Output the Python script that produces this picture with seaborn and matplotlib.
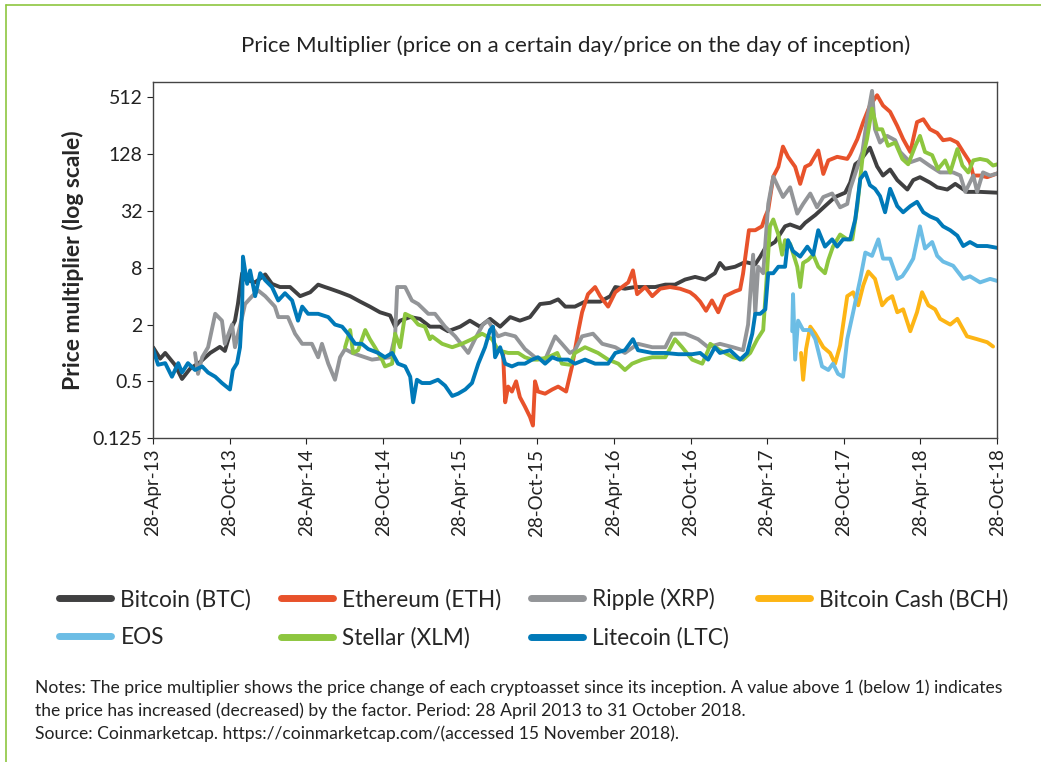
import numpy as np
import pandas as pd
import matplotlib.pyplot as plt
import matplotlib.lines as mlines
import seaborn as sns

# days since 28 April 2013 and price multiplier
btc_days = [0, 17, 29, 52, 69, 88, 112, 136, 159, 171, 188, 195, 202, 212, 219, 243, 267, 283, 302, 326,
            350, 374, 393, 409, 421, 445, 469, 493, 516, 540, 564, 576, 588, 612, 635, 659, 683, 702, 731, 754,
            778, 802, 826, 850, 873, 897, 921, 945, 964, 981, 1004, 1028, 1064, 1088, 1100, 1123, 1147, 1171, 1195, 1219,
            1242, 1266, 1290, 1314, 1337, 1349, 1361, 1385, 1409, 1433, 1445, 1457, 1480, 1504, 1516, 1540, 1552, 1576, 1599, 1623,
            1647, 1659, 1671, 1683, 1706, 1723, 1737, 1754, 1771, 1795, 1809, 1825, 1849, 1866, 1890, 1909, 1937, 1968, 2009]
btc_vals = [1.15, 0.87, 1.0, 0.75, 0.53, 0.68, 0.8, 1.0, 1.16, 1.05, 1.9, 2.2, 3.3, 7.0, 6.0, 5.6, 6.8, 5.4, 5.0, 5.0,
            4.0, 4.4, 5.3, 5.0, 4.8, 4.4, 4.0, 3.5, 3.1, 2.7, 2.5, 1.9, 2.2, 2.4, 2.3, 1.9, 1.9, 1.7, 1.9, 2.2,
            1.9, 2.3, 1.9, 2.4, 2.2, 2.4, 3.3, 3.4, 3.7, 3.1, 3.1, 3.5, 3.5, 4.0, 5.0, 4.8, 5.0, 5.0, 5.0, 5.3,
            5.3, 6.0, 6.4, 6.0, 7.0, 9.0, 7.8, 8.2, 9.2, 8.7, 10.5, 13, 15, 22, 23, 21, 24, 29, 36, 45,
            50, 64, 100, 110, 150, 95, 76, 88, 68, 54, 68, 73, 64, 57, 54, 62, 51, 51, 50]

eth_days = [833, 838, 845, 854, 864, 873, 885, 897, 904, 909, 916, 933, 950, 964, 983, 997, 1012, 1021, 1035, 1052,
            1064, 1083, 1100, 1116, 1131, 1142, 1152, 1171, 1188, 1207, 1230, 1254, 1278, 1290, 1302, 1316, 1330, 1345, 1361, 1385,
            1397, 1404, 1418, 1433, 1449, 1457, 1464, 1476, 1488, 1499, 1511, 1528, 1540, 1552, 1564, 1583, 1595, 1607, 1628, 1652,
            1659, 1676, 1690, 1706, 1723, 1737, 1754, 1771, 1785, 1802, 1818, 1833, 1849, 1866, 1880, 1897, 1914, 1928, 1944, 1952,
            1968, 1985, 2009]
eth_vals = [1.0, 0.3, 0.44, 0.39, 0.5, 0.34, 0.27, 0.21, 0.17, 0.5, 0.39, 0.37, 0.41, 0.44, 0.39, 0.72, 1.7, 2.7, 4.2, 5.0,
            4.0, 3.1, 4.4, 5.0, 5.6, 7.5, 4.2, 5.0, 4.0, 4.8, 5.0, 4.8, 4.4, 4.0, 3.5, 2.8, 3.6, 2.7, 4.0, 4.5,
            4.7, 6.9, 20, 20, 22, 28, 33, 74, 94, 154, 120, 94, 62, 94, 100, 140, 79, 110, 120, 114,
            128, 185, 280, 420, 540, 420, 360, 255, 185, 135, 280, 300, 235, 215, 180, 185, 170, 135, 105, 76,
            76, 73, 80]

xrp_days = [100, 107, 117, 131, 148, 164, 171, 188, 195, 212, 219, 236, 250, 267, 290, 298, 321, 338, 355, 378,
            393, 402, 417, 433, 445, 457, 474, 521, 564, 576, 581, 600, 616, 631, 655, 671, 695, 719, 750, 766,
            785, 797, 821, 838, 862, 885, 909, 933, 957, 973, 992, 1004, 1021, 1047, 1069, 1100, 1123, 1154, 1188, 1219,
            1235, 1266, 1297, 1321, 1349, 1380, 1404, 1416, 1428, 1433, 1440, 1452, 1464, 1476, 1488, 1499, 1516, 1533, 1547, 1564,
            1580, 1595, 1616, 1635, 1652, 1659, 1688, 1699, 1711, 1718, 1730, 1747, 1766, 1778, 1802, 1825, 1849, 1873, 1904, 1921,
            1933, 1952, 1961, 1975, 1992, 2009]
xrp_vals = [1.0, 0.6, 0.9, 1.15, 2.6, 2.2, 1.25, 2.0, 1.15, 2.4, 3.3, 4.0, 4.6, 4.0, 3.1, 2.4, 2.4, 1.6, 1.25, 1.25,
            0.9, 1.25, 0.77, 0.52, 0.9, 1.1, 1.0, 0.85, 0.9, 1.5, 5.0, 5.0, 3.6, 3.3, 2.6, 2.6, 1.9, 1.5, 1.0, 1.4,
            2.0, 2.2, 1.5, 1.6, 1.5, 1.1, 0.9, 0.85, 1.5, 1.25, 1.0, 1.07, 1.5, 1.6, 1.25, 1.15, 1.0, 1.25, 1.15, 1.15,
            1.6, 1.6, 1.4, 1.15, 1.25, 1.15, 1.07, 2.0, 11, 2.6, 8.2, 7.0, 38, 74, 57, 45, 57, 30, 38, 49,
            35, 45, 49, 35, 38, 55, 135, 300, 600, 235, 170, 200, 180, 135, 105, 114, 96, 82, 82, 76,
            51, 76, 51, 82, 76, 80]

bch_days = [1542, 1547, 1554, 1564, 1576, 1595, 1611, 1623, 1635, 1652, 1666, 1678, 1690, 1702, 1718, 1735, 1747, 1759, 1771, 1785,
            1802, 1818, 1830, 1845, 1861, 1873, 1897, 1914, 1937, 1961, 1985, 1999]
bch_vals = [1.0, 0.52, 1.1, 1.9, 1.6, 1.15, 1.0, 0.77, 1.2, 4.0, 4.4, 3.2, 5.2, 7.3, 6.1, 3.2, 3.7, 4.0, 2.7, 2.9,
            1.7, 2.7, 4.4, 3.2, 2.9, 2.3, 2.0, 2.3, 1.5, 1.4, 1.3, 1.17]

eos_days = [1521, 1523, 1528, 1535, 1547, 1564, 1576, 1592, 1607, 1618, 1630, 1642, 1652, 1666, 1683, 1695, 1711, 1726, 1737, 1754,
            1771, 1783, 1795, 1809, 1825, 1837, 1854, 1866, 1880, 1904, 1928, 1944, 1968, 1992, 2009]
eos_vals = [1.7, 4.2, 0.85, 2.2, 1.75, 1.75, 1.4, 0.72, 0.66, 0.77, 0.6, 0.56, 1.4, 2.7, 6.1, 11.6, 10.7, 16, 10, 10,
            6.1, 6.5, 7.8, 10, 22, 12.8, 15, 10.7, 9.3, 8.4, 6.1, 6.5, 5.6, 6.1, 5.8]

xlm_days = [457, 469, 476, 488, 505, 516, 528, 545, 552, 569, 576, 588, 600, 616, 631, 647, 659, 664, 688, 712,
            735, 759, 783, 807, 821, 845, 869, 885, 902, 916, 940, 962, 973, 992, 1004, 1028, 1059, 1083, 1107, 1123,
            1140, 1164, 1188, 1219, 1242, 1259, 1283, 1307, 1321, 1326, 1349, 1380, 1404, 1421, 1438, 1452, 1461, 1468, 1476, 1488,
            1497, 1504, 1516, 1533, 1540, 1547, 1559, 1571, 1583, 1599, 1607, 1618, 1635, 1652, 1664, 1676, 1688, 1699, 1711, 1723,
            1735, 1749, 1766, 1783, 1797, 1814, 1825, 1837, 1854, 1868, 1885, 1897, 1914, 1926, 1940, 1952, 1968, 1985, 1999, 2009]
xlm_vals = [1.15, 1.75, 1.0, 1.07, 1.75, 1.4, 1.15, 0.85, 0.72, 0.77, 1.6, 1.15, 2.6, 2.4, 2.0, 1.9, 1.4, 1.5, 1.25, 1.15,
            1.25, 1.4, 1.6, 1.4, 1.07, 1.0, 1.0, 0.9, 0.85, 0.85, 0.9, 1.0, 0.77, 0.75, 1.0, 1.15, 1.0, 0.85, 0.77, 0.66,
            0.77, 0.85, 0.9, 0.9, 1.4, 1.15, 0.85, 0.77, 1.07, 1.25, 1.07, 0.9, 0.85, 1.0, 1.4, 1.75, 7.0, 22, 26, 18,
            11, 15.7, 14.4, 8.2, 5.0, 9.0, 9.7, 11, 8.2, 7.0, 9.7, 13.4, 18, 16, 16, 36, 114, 185, 390, 235,
            235, 157, 170, 114, 100, 157, 200, 135, 125, 89, 110, 82, 145, 97, 82, 110, 114, 110, 97, 100]

ltc_days = [0, 12, 29, 45, 60, 69, 83, 100, 117, 131, 148, 164, 183, 190, 200, 207, 212, 214, 224, 231,
            243, 255, 267, 283, 298, 314, 331, 345, 355, 369, 393, 417, 433, 450, 464, 481, 497, 512, 536, 552,
            569, 583, 600, 612, 619, 628, 640, 659, 678, 695, 712, 726, 743, 759, 774, 790, 802, 809, 814, 826,
            838, 854, 869, 885, 902, 916, 933, 950, 964, 988, 1004, 1028, 1052, 1083, 1100, 1123, 1142, 1154, 1188, 1219,
            1250, 1283, 1302, 1321, 1337, 1349, 1373, 1397, 1414, 1426, 1433, 1445, 1457, 1464, 1476, 1488, 1504, 1511, 1523, 1540,
            1557, 1571, 1583, 1599, 1616, 1628, 1642, 1659, 1671, 1683, 1695, 1706, 1718, 1730, 1742, 1754, 1771, 1785, 1802, 1818,
            1833, 1849, 1866, 1880, 1897, 1914, 1928, 1944, 1961, 1985, 2009]
ltc_vals = [1.1, 0.75, 0.78, 0.56, 0.78, 0.62, 0.78, 0.66, 0.72, 0.62, 0.56, 0.48, 0.41, 0.66, 0.78, 1.15, 2.9, 10.5, 5.4, 7.5,
            4.0, 7.0, 5.9, 5.0, 3.6, 4.3, 3.6, 2.2, 3.1, 2.6, 2.6, 2.4, 2.0, 1.9, 1.6, 1.25, 1.25, 1.1, 1.0, 0.9,
            1.0, 0.77, 0.72, 0.56, 0.3, 0.52, 0.48, 0.48, 0.52, 0.45, 0.35, 0.37, 0.41, 0.48, 0.77, 1.15, 1.75, 1.9, 0.9, 1.15,
            0.77, 0.72, 0.77, 0.77, 0.85, 0.9, 0.77, 0.9, 0.85, 0.85, 0.77, 0.85, 0.77, 0.77, 1.0, 1.07, 1.4, 1.07, 1.0, 1.0,
            0.97, 0.97, 1.0, 0.85, 1.15, 1.0, 1.07, 0.85, 1.0, 1.6, 2.6, 2.6, 2.9, 7.0, 7.0, 8.2, 8.2, 15.7, 12, 10.5,
            13.4, 11, 20, 13.4, 16, 13.4, 16, 16, 26, 70, 82, 60, 55, 46, 31, 55, 36, 31, 36, 40,
            31, 28, 26, 22, 20, 17.5, 13.6, 15, 13.6, 13.6, 13]

names = ['Bitcoin (BTC)', 'Ethereum (ETH)', 'Ripple (XRP)', 'Bitcoin Cash (BCH)',
         'EOS', 'Stellar (XLM)', 'Litecoin (LTC)']
colors = ['#404041', '#E8522B', '#939598', '#FDB515', '#6CBDE5', '#8DC63F', '#0079B8']
series = [(btc_days, btc_vals), (eth_days, eth_vals), (xrp_days, xrp_vals), (bch_days, bch_vals),
          (eos_days, eos_vals), (xlm_days, xlm_vals), (ltc_days, ltc_vals)]

start = pd.Timestamp('2013-04-28')
frames = []
for name, (d, v) in zip(names, series):
    frames.append(pd.DataFrame({'date': start + pd.to_timedelta(d, unit='D'), 'mult': v, 'coin': name}))
df = pd.concat(frames, ignore_index=True)

sns.set_theme(style='ticks')
plt.rcParams['font.family'] = ['Lato', 'DejaVu Sans']

fig = plt.figure(figsize=(10.41, 7.62), dpi=100)
ax = fig.add_axes([0.147, 0.425, 0.811, 0.467])

sns.lineplot(data=df, x='date', y='mult', hue='coin', hue_order=names,
             palette=dict(zip(names, colors)), estimator=None, sort=False,
             linewidth=2.8, ax=ax, legend=False)

ax.set_yscale('log', base=2)
yt = [0.125, 0.5, 2, 8, 32, 128, 512]
ax.set_yticks(yt)
ax.set_yticklabels(['0.125', '0.5', '2', '8', '32', '128', '512'], fontsize=14)
ax.minorticks_off()
ax.set_ylim(0.125, 740)

xt = pd.date_range('2013-04-01', '2018-10-01', freq='6MS') + pd.Timedelta(days=27)
ax.set_xticks(xt)
ax.set_xticklabels([t.strftime('%d-%b-%y') for t in xt], rotation=90, fontsize=13.5)
ax.set_xlim(start, pd.Timestamp('2018-10-28'))
ax.set_xlabel('')
ax.set_ylabel('Price multiplier (log scale)', fontsize=16.5, fontweight='bold', labelpad=6)
ax.tick_params(length=4, width=0.8, colors='#222222')
for s in ax.spines.values():
    s.set_color('#444444')
    s.set_linewidth(1.0)

fig.text(0.5525, 0.94, 'Price Multiplier (price on a certain day/price on the day of inception)',
         ha='center', va='center', fontsize=16, color='#222222')

# legend filled column by column so rows read BTC, ETH, XRP, BCH / EOS, XLM, LTC
order = [0, 4, 1, 5, 2, 6, 3]
handles = [mlines.Line2D([], [], color=colors[i], linewidth=5) for i in order]
labels = [names[i] for i in order]
fig.legend(handles, labels, loc='upper left', bbox_to_anchor=(0.057, 0.228), ncol=4, frameon=False,
           fontsize=16.3, handlelength=2.3, handletextpad=0.4, columnspacing=1.3, labelspacing=0.75,
           borderaxespad=0, borderpad=0)

notes = ('Notes: The price multiplier shows the price change of each cryptoasset since its inception. '
         'A value above 1 (below 1) indicates\nthe price has increased (decreased) by the factor. '
         'Period: 28 April 2013 to 31 October 2018.\n'
         'Source: Coinmarketcap. https://coinmarketcap.com/(accessed 15 November 2018).')
fig.text(0.034, 0.108, notes, ha='left', va='top', fontsize=12.6, linespacing=1.45, color='#222222')

# thin green frame at top and left
fig.add_artist(mlines.Line2D([0.006, 1.0], [0.993, 0.993], color='#8DC63F', linewidth=1.2))
fig.add_artist(mlines.Line2D([0.006, 0.006], [0.0, 0.993], color='#8DC63F', linewidth=1.2))

fig.savefig('out.png', dpi=100)
